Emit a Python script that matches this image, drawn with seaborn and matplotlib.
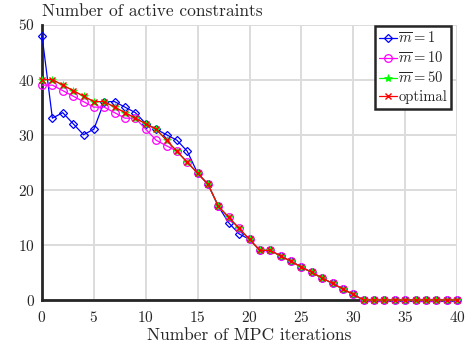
import numpy as np
import pandas as pd
import matplotlib
matplotlib.use("Agg")
import matplotlib.pyplot as plt
import seaborn as sns

iterations = list(range(0, 41))
m1 = [48, 33, 34, 32, 30, 31, 36, 36, 35, 34, 32, 31, 30, 29, 27, 23, 21, 17, 14, 12,
      11, 9, 9, 8, 7, 6, 5, 4, 3, 2, 1] + [0] * 10
m10 = [39, 39, 38, 37, 36, 35, 35, 34, 33, 33, 31, 29, 28, 27, 25, 23, 21, 17, 15, 13,
       11, 9, 9, 8, 7, 6, 5, 4, 3, 2, 1] + [0] * 10
m50 = [40, 40, 39, 38, 37, 36, 36, 35, 34, 33, 32, 31, 29, 27, 25, 23, 21, 17, 15, 13,
       11, 9, 9, 8, 7, 6, 5, 4, 3, 2, 1] + [0] * 10
optimal = [40, 40, 39, 38, 37, 36, 36, 35, 34, 33, 32, 31, 29, 27, 25, 23, 21, 17, 15, 13,
           11, 9, 9, 8, 7, 6, 5, 4, 3, 2, 1] + [0] * 10

labels = [r'$\overline{m}=1$', r'$\overline{m}=10$', r'$\overline{m}=50$', 'optimal']
x_ticks = [0, 5, 10, 15, 20, 25, 30, 35, 40]
y_ticks = [0, 10, 20, 30, 40, 50]

sns.set_style("white")
plt.rcParams['font.family'] = ['cmr10', 'DejaVu Serif']
plt.rcParams['mathtext.fontset'] = 'cm'
plt.rcParams['axes.formatter.use_mathtext'] = True

fig = plt.figure(figsize=(4.68, 3.58), dpi=100)
ax = fig.add_axes([42 / 468, 1 - 300 / 358, (457 - 42) / 468, (300 - 24.5) / 358])

styles = [
    dict(data=m1, color='#0000ff', marker='D', markersize=4.5, mfc='none', mec='#0000ff', mew=0.9),
    dict(data=m10, color='#ff00ff', marker='o', markersize=5.5, mfc='none', mec='#ff00ff', mew=0.9),
    dict(data=m50, color='#00ff00', marker='*', markersize=6, mfc='#00ff00', mec='#00ff00', mew=0.5),
    dict(data=optimal, color='#ff0000', marker='x', markersize=4.5, mfc='#ff0000', mec='#ff0000', mew=1.0),
]
for lab, st in zip(labels, styles):
    sns.lineplot(x=iterations, y=st['data'], ax=ax, color=st['color'], marker=st['marker'],
                 markersize=st['markersize'], markerfacecolor=st['mfc'],
                 markeredgecolor=st['mec'], markeredgewidth=st['mew'],
                 linewidth=0.9, label=lab, clip_on=False)

ax.set_xlim(0, 40)
ax.set_ylim(0, 50)
ax.set_xticks(x_ticks)
ax.set_yticks(y_ticks)
ax.grid(True, color='#dcdcdc', linewidth=1.4)
ax.set_axisbelow(True)
for s in ['top', 'right']:
    ax.spines[s].set_visible(False)
for s in ['left', 'bottom']:
    ax.spines[s].set_color('#262626')
    ax.spines[s].set_linewidth(2.0)
    ax.spines[s].set_zorder(1.5)
ax.tick_params(direction='in', length=4, width=1.5, labelsize=11, colors='#262626',
               labelcolor='#262626')
ax.tick_params(axis='x', pad=7)
ax.tick_params(axis='y', pad=5)
ax.set_xlabel('Number of MPC iterations', fontsize=12.5, labelpad=2, color='#262626')
ax.set_ylabel('')
ax.set_title('Number of active constraints', loc='left', fontsize=12.5, pad=6, color='#262626')

leg = ax.legend(loc='upper right', bbox_to_anchor=(0.99, 1.0), fontsize=10.5,
                frameon=True, fancybox=False, edgecolor='#262626', framealpha=1,
                handlelength=1.2, handletextpad=0.1, borderpad=0.3, labelspacing=0.3,
                borderaxespad=0.1)
leg.get_frame().set_linewidth(1.8)
leg.set_zorder(5)

fig.savefig('out.png', dpi=100)
